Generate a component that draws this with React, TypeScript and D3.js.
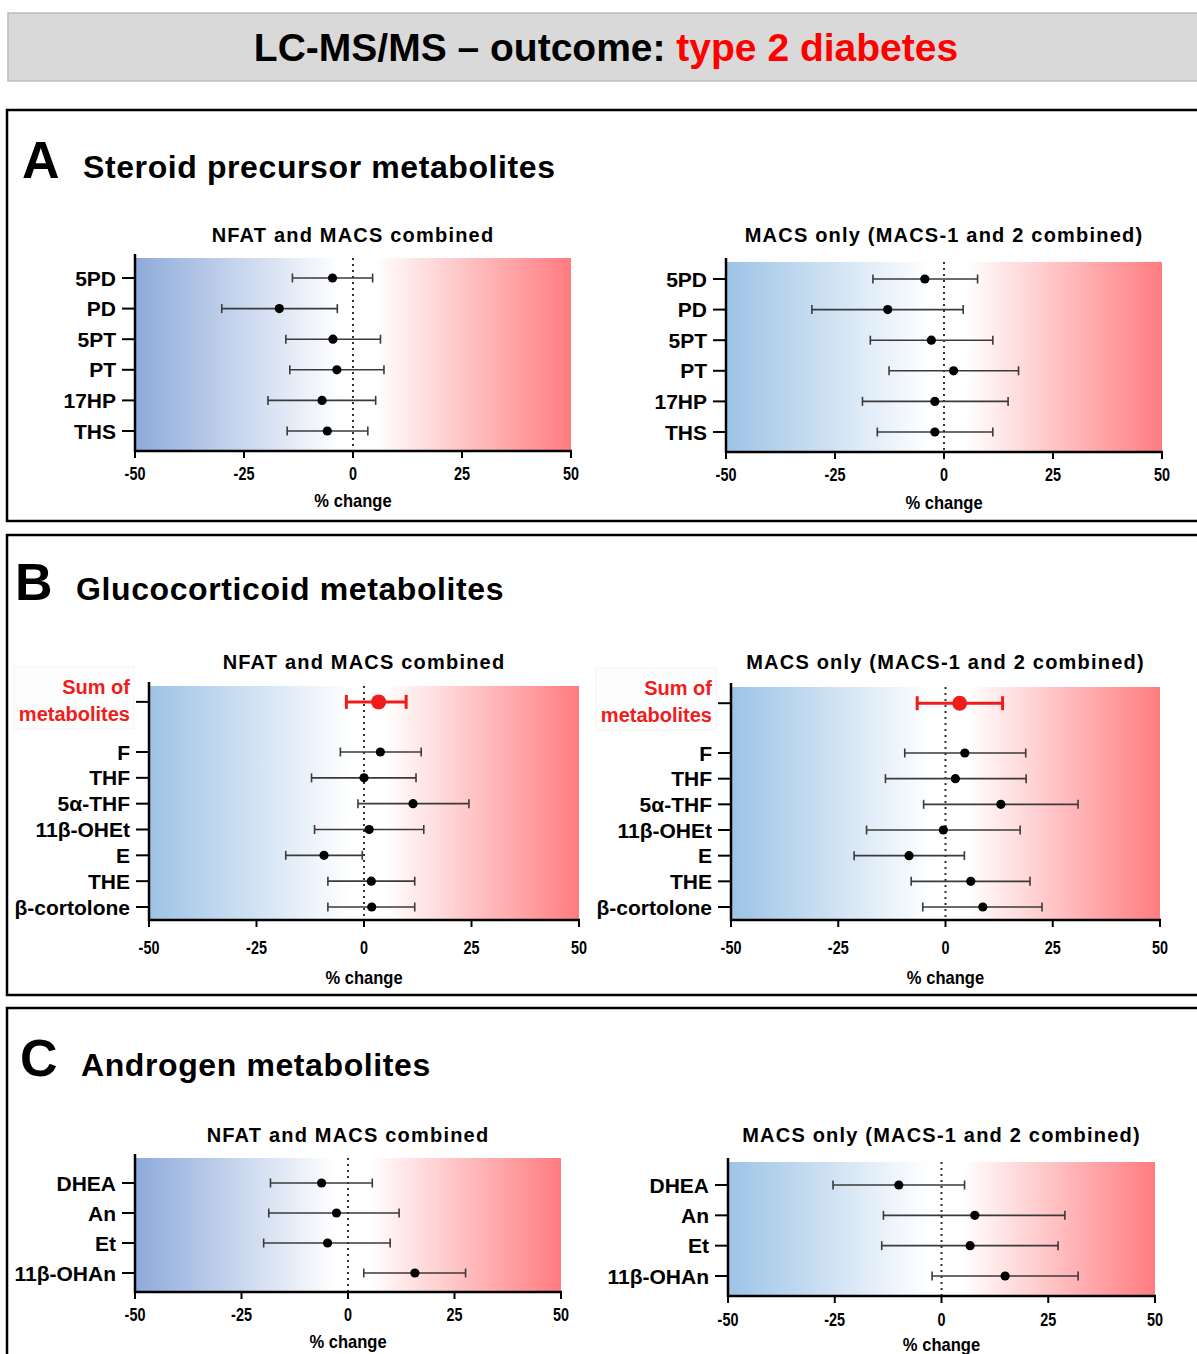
import * as d3 from "d3";

// ---- data ----
const TICKS = [-50, -25, 0, 25, 50];

const precursorLabels = ["5PD", "PD", "5PT", "PT", "17HP", "THS"];
const precursorAllEst = [-4.7, -16.9, -4.6, -3.7, -7.1, -5.9];
const precursorAllLo = [-13.9, -30.1, -15.4, -14.5, -19.5, -15.1];
const precursorAllHi = [4.5, -3.6, 6.3, 7.1, 5.2, 3.4];
const precursorMacsEst = [-4.4, -12.9, -2.9, 2.2, -2.1, -2.1];
const precursorMacsLo = [-16.3, -30.3, -16.9, -12.6, -18.7, -15.3];
const precursorMacsHi = [7.7, 4.4, 11.2, 17.1, 14.7, 11.2];

const glucoLabels = ["F", "THF", "5α-THF", "11β-OHEt", "E", "THE", "β-cortolone"];
const glucoAllEst = [3.8, 0, 11.4, 1.2, -9.3, 1.7, 1.8];
const glucoAllLo = [-5.5, -12.2, -1.4, -11.5, -18.2, -8.4, -8.4];
const glucoAllHi = [13.3, 12.1, 24.4, 13.9, -0.4, 11.8, 11.8];
const glucoMacsEst = [4.5, 2.3, 12.9, -0.5, -8.5, 5.9, 8.7];
const glucoMacsLo = [-9.5, -14.0, -5.1, -18.4, -21.3, -8.0, -5.3];
const glucoMacsHi = [18.7, 18.8, 30.9, 17.4, 4.4, 19.7, 22.5];
const glucoSumAll = [3.4, -4.1, 9.8]; // est, lo, hi
const glucoSumMacs = [3.3, -6.6, 13.3];

const androLabels = ["DHEA", "An", "Et", "11β-OHAn"];
const androAllEst = [-6.2, -2.7, -4.8, 15.7];
const androAllLo = [-18.2, -18.6, -19.8, 3.7];
const androAllHi = [5.7, 12.0, 9.9, 27.6];
const androMacsEst = [-10.0, 7.8, 6.7, 14.9];
const androMacsLo = [-25.4, -13.6, -14.0, -2.2];
const androMacsHi = [5.4, 28.9, 27.3, 32.0];

const TITLE_ALL = "NFAT and MACS combined";
const TITLE_MACS = "MACS only (MACS-1 and 2 combined)";

// ---- styling ----
const FONT = "'Liberation Sans', Arial, Helvetica, sans-serif";
const RED = "#f01c1c";
const PERIWINKLE = "#8eaadb";
const SKY = "#9dc3e6";
const PINK = "#ff7c80";
const SUM_GAP = 1.94; // rows between "Sum of metabolites" and the first metabolite

type Layout = {
  id: string;
  x0: number;
  x1: number;
  top: number;
  axisY: number;
  row0: number;
  row1: number;
  titleY: number;
  tickDy: number;
  xLabelDy: number;
  blue: string;
};

type ForestProps = {
  cfg: Layout;
  title: string;
  labels: string[];
  est: number[];
  lo: number[];
  hi: number[];
  sum?: number[];
};

function Forest({ cfg, title, labels, est, lo, hi, sum }: ForestProps) {
  const x = d3.scaleLinear().domain([-50, 50]).range([cfg.x0, cfg.x1]);
  const y = d3
    .scaleLinear()
    .domain([0, labels.length - 1])
    .range([cfg.row0, cfg.row1]);
  const sumY = sum ? y(-SUM_GAP) : 0;
  const gid = `grad-${cfg.id}`;

  return (
    <g>
      <defs>
        <linearGradient id={gid} x1="0" x2="1" y1="0" y2="0">
          <stop offset="0%" stopColor={cfg.blue} />
          <stop offset="47%" stopColor="#ffffff" />
          <stop offset="55%" stopColor="#ffffff" />
          <stop offset="100%" stopColor={PINK} />
        </linearGradient>
      </defs>

      {/* chart title */}
      <text
        x={x(0)}
        y={cfg.titleY}
        textAnchor="middle"
        fontFamily={FONT}
        fontWeight="bold"
        fontSize={20}
        letterSpacing={1.2}
      >
        {title}
      </text>

      {/* blue → white → red background */}
      <rect
        x={x(-50)}
        y={cfg.top}
        width={x(50) - x(-50)}
        height={cfg.axisY - cfg.top}
        fill={`url(#${gid})`}
      />

      {/* zero line */}
      <line
        x1={x(0)}
        x2={x(0)}
        y1={cfg.top}
        y2={cfg.axisY}
        stroke="#333"
        strokeWidth={2}
        strokeDasharray="2 4"
      />

      {/* axes */}
      <line x1={x(-50)} x2={x(-50)} y1={cfg.top - 4} y2={cfg.axisY + 1} stroke="#000" strokeWidth={2.5} />
      <line x1={x(-50) - 1} x2={x(50) + 1} y1={cfg.axisY} y2={cfg.axisY} stroke="#000" strokeWidth={2.5} />
      {TICKS.map((t) => (
        <g key={t}>
          <line x1={x(t)} x2={x(t)} y1={cfg.axisY} y2={cfg.axisY + 7} stroke="#000" strokeWidth={2} />
          <text
            x={x(t)}
            y={cfg.axisY + cfg.tickDy}
            textAnchor="middle"
            fontFamily={FONT}
            fontWeight="bold"
            fontSize={18}
            transform={`translate(${x(t)},0) scale(0.8,1) translate(${-x(t)},0)`}
          >
            {t}
          </text>
        </g>
      ))}
      <text
        x={x(0)}
        y={cfg.axisY + cfg.xLabelDy}
        textAnchor="middle"
        fontFamily={FONT}
        fontWeight="bold"
        fontSize={18}
        transform={`translate(${x(0)},0) scale(0.92,1) translate(${-x(0)},0)`}
      >
        % change
      </text>

      {/* rows */}
      {labels.map((lab, i) => {
        const yy = y(i);
        return (
          <g key={lab}>
            <line x1={x(-50) - 13} x2={x(-50)} y1={yy} y2={yy} stroke="#000" strokeWidth={2} />
            <text
              x={x(-50) - 19}
              y={yy}
              dy="0.36em"
              textAnchor="end"
              fontFamily={FONT}
              fontWeight="bold"
              fontSize={21}
            >
              {lab}
            </text>
            <line x1={x(lo[i])} x2={x(hi[i])} y1={yy} y2={yy} stroke="#3a3a3a" strokeWidth={1.6} />
            <line x1={x(lo[i])} x2={x(lo[i])} y1={yy - 4.5} y2={yy + 4.5} stroke="#3a3a3a" strokeWidth={1.6} />
            <line x1={x(hi[i])} x2={x(hi[i])} y1={yy - 4.5} y2={yy + 4.5} stroke="#3a3a3a" strokeWidth={1.6} />
            <circle cx={x(est[i])} cy={yy} r={4.6} fill="#000" />
          </g>
        );
      })}

      {/* sum of metabolites */}
      {sum && (
        <g>
          <rect
            x={x(-50) - 135}
            y={sumY - 35}
            width={120}
            height={62}
            fill="#fdfdfd"
            stroke="#f4f4f4"
          />
          <line x1={x(-50) - 13} x2={x(-50)} y1={sumY} y2={sumY} stroke="#000" strokeWidth={2} />
          <text
            x={x(-50) - 19}
            y={sumY - 8}
            textAnchor="end"
            fontFamily={FONT}
            fontWeight="bold"
            fontSize={20}
            fill={RED}
          >
            Sum of
          </text>
          <text
            x={x(-50) - 19}
            y={sumY + 19}
            textAnchor="end"
            fontFamily={FONT}
            fontWeight="bold"
            fontSize={20}
            fill={RED}
          >
            metabolites
          </text>
          <line x1={x(sum[1])} x2={x(sum[2])} y1={sumY} y2={sumY} stroke={RED} strokeWidth={3} />
          <line x1={x(sum[1])} x2={x(sum[1])} y1={sumY - 7} y2={sumY + 7} stroke={RED} strokeWidth={3} />
          <line x1={x(sum[2])} x2={x(sum[2])} y1={sumY - 7} y2={sumY + 7} stroke={RED} strokeWidth={3} />
          <circle cx={x(sum[0])} cy={sumY} r={7.5} fill={RED} />
        </g>
      )}
    </g>
  );
}

function PanelHeader({ letter, text, x, y, top, bottom }: { letter: string; text: string; x: number; y: number; top: number; bottom: number }) {
  return (
    <g>
      <rect x={7} y={top} width={1200} height={bottom - top} fill="none" stroke="#000" strokeWidth={2.5} />
      <text x={x} y={y} fontFamily={FONT} fontWeight="bold" fontSize={52}>
        {letter}
      </text>
      <text x={x + 61} y={y} fontFamily={FONT} fontWeight="bold" fontSize={32} letterSpacing={0.6}>
        {text}
      </text>
    </g>
  );
}

const A_LEFT: Layout = { id: "al", x0: 135, x1: 571, top: 258, axisY: 451, row0: 278, row1: 431, titleY: 242, tickDy: 29, xLabelDy: 56, blue: PERIWINKLE };
const A_RIGHT: Layout = { id: "ar", x0: 726, x1: 1162, top: 262, axisY: 452, row0: 279, row1: 432, titleY: 242, tickDy: 29, xLabelDy: 57, blue: SKY };
const B_LEFT: Layout = { id: "bl", x0: 149, x1: 579, top: 686, axisY: 920, row0: 752, row1: 907, titleY: 669, tickDy: 34, xLabelDy: 64, blue: SKY };
const B_RIGHT: Layout = { id: "br", x0: 731, x1: 1160, top: 687, axisY: 920, row0: 753, row1: 907, titleY: 669, tickDy: 34, xLabelDy: 64, blue: SKY };
const C_LEFT: Layout = { id: "cl", x0: 135, x1: 561, top: 1158, axisY: 1292, row0: 1183, row1: 1273, titleY: 1142, tickDy: 29, xLabelDy: 56, blue: PERIWINKLE };
const C_RIGHT: Layout = { id: "cr", x0: 728, x1: 1155, top: 1162, axisY: 1296, row0: 1185, row1: 1276, titleY: 1142, tickDy: 30, xLabelDy: 55, blue: SKY };

export default function App() {
  return (
    <svg
      width={1197}
      height={1354}
      viewBox="0 0 1197 1354"
      style={{ position: "absolute", left: 0, top: 0, background: "#fff" }}
    >
      {/* banner */}
      <rect x={8} y={13} width={1195} height={68} fill="#d9d9d9" stroke="#bdbdbd" strokeWidth={1.5} />
      <text x={606} y={61} textAnchor="middle" fontFamily={FONT} fontWeight="bold" fontSize={39}>
        <tspan fill="#000">LC-MS/MS – outcome: </tspan>
        <tspan fill="#ff0000">type 2 diabetes</tspan>
      </text>

      <PanelHeader letter="A" text="Steroid precursor metabolites" x={22} y={178} top={110} bottom={521} />
      <Forest cfg={A_LEFT} title={TITLE_ALL} labels={precursorLabels} est={precursorAllEst} lo={precursorAllLo} hi={precursorAllHi} />
      <Forest cfg={A_RIGHT} title={TITLE_MACS} labels={precursorLabels} est={precursorMacsEst} lo={precursorMacsLo} hi={precursorMacsHi} />

      <PanelHeader letter="B" text="Glucocorticoid metabolites" x={15} y={600} top={535} bottom={995} />
      <Forest cfg={B_LEFT} title={TITLE_ALL} labels={glucoLabels} est={glucoAllEst} lo={glucoAllLo} hi={glucoAllHi} sum={glucoSumAll} />
      <Forest cfg={B_RIGHT} title={TITLE_MACS} labels={glucoLabels} est={glucoMacsEst} lo={glucoMacsLo} hi={glucoMacsHi} sum={glucoSumMacs} />

      <PanelHeader letter="C" text="Androgen metabolites" x={20} y={1076} top={1008} bottom={1400} />
      <Forest cfg={C_LEFT} title={TITLE_ALL} labels={androLabels} est={androAllEst} lo={androAllLo} hi={androAllHi} />
      <Forest cfg={C_RIGHT} title={TITLE_MACS} labels={androLabels} est={androMacsEst} lo={androMacsLo} hi={androMacsHi} />
    </svg>
  );
}
